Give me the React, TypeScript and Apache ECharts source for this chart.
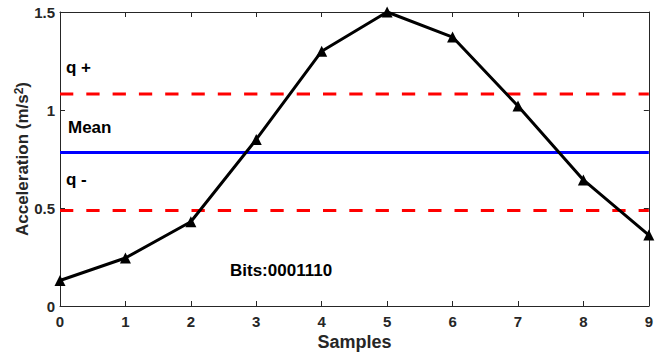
import React, { useEffect, useRef } from "react";
import * as echarts from "echarts";

const samples = [0, 1, 2, 3, 4, 5, 6, 7, 8, 9];
const acceleration = [0.13, 0.245, 0.43, 0.85, 1.3, 1.5, 1.372, 1.02, 0.643, 0.362];
const qPlus = 1.082;
const meanValue = 0.783;
const qMinus = 0.487;
const yTicks = [0, 0.5, 1, 1.5];
const textLabels = ["q +", "Mean", "q -", "Bits:0001110"];

const FONT = "Liberation Sans, Arial, sans-serif";
const AX = "#262626";

export default function App() {
  const ref = useRef<HTMLDivElement>(null);
  useEffect(() => {
    if (!ref.current) return;
    const chart = echarts.init(ref.current, undefined, { renderer: "svg" });
    const xMin = samples[0];
    const xMax = samples[samples.length - 1];
    const hLine = (v: number) => [
      [xMin, v],
      [xMax, v],
    ];
    const axisCommon = {
      axisLine: { show: true, onZero: false, lineStyle: { color: AX, width: 1 } },
      axisTick: { show: true, inside: true, length: 5, lineStyle: { color: AX } },
      splitLine: { show: false },
    };
    const txt = (t: string, x: number, y: number) => ({
      type: "text",
      x,
      y,
      style: { text: t, font: `bold 17px ${FONT}`, fill: "#000", verticalAlign: "middle", align: "left" },
    });
    const nameBase = { fontFamily: FONT, fontWeight: "bold", fontSize: 17, color: AX, lineHeight: 19 };
    const dash = [13.3, 13];
    chart.setOption({
      animation: false,
      grid: { left: 60, top: 12, right: 5, bottom: 51, containLabel: false },
      xAxis: [
        {
          type: "value",
          min: xMin,
          max: xMax,
          interval: 1,
          name: "Samples",
          nameLocation: "middle",
          nameGap: 27,
          nameMoveOverlap: false,
          nameTextStyle: { fontFamily: FONT, fontWeight: "bold", fontSize: 18, color: AX },
          axisLabel: { fontFamily: FONT, fontWeight: "bold", fontSize: 15, color: AX, margin: 8 },
          ...axisCommon,
        },
        {
          type: "value",
          position: "top",
          min: xMin,
          max: xMax,
          interval: 1,
          axisLabel: { show: false },
          ...axisCommon,
        },
      ],
      yAxis: [
        {
          type: "value",
          min: yTicks[0],
          max: yTicks[yTicks.length - 1],
          interval: 0.5,
          name: "{b|Acceleration (m/s}{sup|2}{b|)}",
          nameLocation: "middle",
          nameGap: 28,
          nameMoveOverlap: false,
          nameTextStyle: {
            ...nameBase,
            rich: {
              b: { ...nameBase },
              sup: { fontFamily: FONT, fontWeight: "bold", fontSize: 12, color: AX, verticalAlign: "top", lineHeight: 12 },
            },
          },
          axisLabel: {
            fontFamily: FONT,
            fontWeight: "bold",
            fontSize: 15,
            color: AX,
            margin: 5,
            formatter: (v: number) => String(v),
          },
          ...axisCommon,
        },
        {
          type: "value",
          position: "right",
          min: yTicks[0],
          max: yTicks[yTicks.length - 1],
          interval: 0.5,
          axisLabel: { show: false },
          ...axisCommon,
        },
      ],
      series: [
        {
          type: "line",
          data: hLine(qPlus),
          symbol: "none",
          lineStyle: { color: "#ff0000", width: 3, type: dash },
          z: 2,
        },
        {
          type: "line",
          data: hLine(meanValue),
          symbol: "none",
          lineStyle: { color: "#0000ff", width: 3 },
          z: 2,
        },
        {
          type: "line",
          data: hLine(qMinus),
          symbol: "none",
          lineStyle: { color: "#ff0000", width: 3, type: dash },
          z: 2,
        },
        {
          type: "line",
          data: samples.map((s, i) => [s, acceleration[i]]),
          symbol: "triangle",
          symbolSize: 11,
          itemStyle: { color: "#000000" },
          lineStyle: { color: "#000000", width: 3 },
          z: 3,
        },
      ],
      graphic: [
        txt(textLabels[0], 66, 67),
        txt(textLabels[1], 68, 127),
        txt(textLabels[2], 66, 179),
        txt(textLabels[3], 230, 270),
      ],
    });
    return () => chart.dispose();
  }, []);
  return <div ref={ref} style={{ width: 656, height: 357, position: "absolute", left: 0, top: 0 }} />;
}
